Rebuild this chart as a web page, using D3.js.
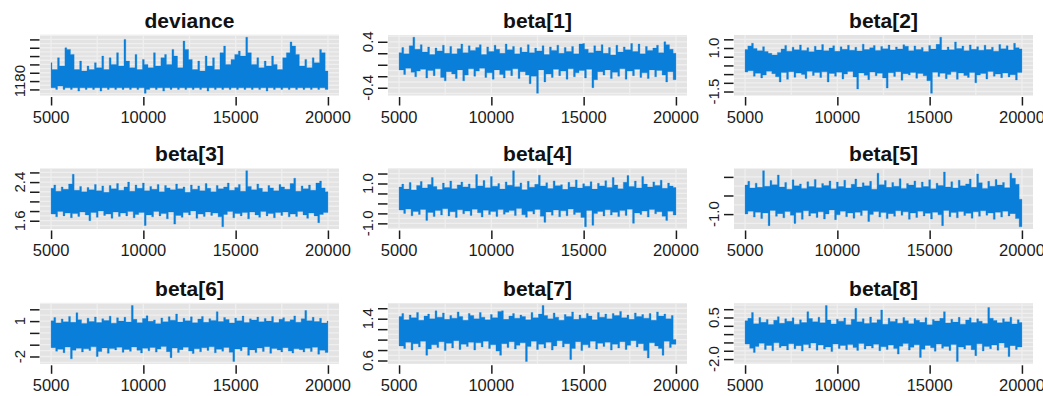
<!DOCTYPE html>
<html>
<head>
<meta charset="utf-8">
<script src="https://cdn.jsdelivr.net/npm/d3@7"></script>
<style>
  html, body { margin: 0; padding: 0; background: #ffffff; }
  svg { display: block; }
</style>
</head>
<body>
<svg id="chart" width="1043" height="396"></svg>
<script>
// MCMC trace plots: post burn-in draws (iterations 5000-20000), kept every 100th draw.
const firstIter = 5000;
const thinStep = 100;
const xTickValues = [5000, 10000, 15000, 20000];
const xGridStep = 2500;

const panelTitles = ["deviance", "beta[1]", "beta[2]", "beta[3]", "beta[4]", "beta[5]", "beta[6]", "beta[7]", "beta[8]"];

const devianceTrace = [
  1191,1176,1187,1175,1194,1177,1189,1175,1200,1176,
  1199,1175,1196,1176,1187,1174,1192,1176,1186,1175,
  1189,1176,1187,1175,1191,1176,1188,1174,1195,1176,
  1187,1175,1194,1176,1190,1175,1197,1176,1189,1175,
  1205,1176,1192,1175,1188,1176,1196,1175,1187,1176,
  1193,1172.7,1190,1175,1188,1176,1197,1175,1189,1176,
  1194,1174,1196,1176,1190,1175,1199,1176,1195,1175,
  1188,1176,1204,1175,1199,1176,1193,1175,1187,1176,
  1192,1175,1186,1176,1195,1174,1189,1176,1194,1175,
  1187,1176,1197,1175,1201,1176,1190,1175,1193,1176,
  1196,1175,1198,1176,1195,1175,1206.3,1176,1197,1175,
  1190,1176,1194,1175,1188,1176,1192,1174,1189,1176,
  1195,1175,1190,1176,1187,1175,1194,1176,1197,1175,
  1203.5,1176,1201,1175,1196,1176,1189,1175,1193,1176,
  1188,1175,1194,1176,1191,1175,1199,1176,1197,1175,
  1186
];

const beta1Trace = [
  0.21,-0.09,0.30,-0.17,0.19,-0.06,0.33,-0.13,0.479,-0.21,
  0.27,-0.11,0.35,-0.08,0.22,-0.23,0.31,-0.10,0.18,-0.19,
  0.29,-0.07,0.24,-0.22,0.34,-0.28,0.20,-0.12,0.32,-0.16,
  0.19,-0.24,0.28,-0.09,0.36,-0.28,0.21,-0.18,0.33,-0.07,
  0.25,-0.20,0.30,-0.11,0.35,-0.06,0.18,-0.22,0.31,-0.14,
  0.23,-0.25,0.34,-0.09,0.27,-0.17,0.20,-0.23,0.36,-0.10,
  0.26,-0.19,0.32,-0.07,0.19,-0.24,0.30,-0.12,0.22,-0.18,
  0.35,-0.33,0.21,-0.20,0.29,-0.496,0.24,-0.09,0.33,-0.30,
  0.18,-0.16,0.31,-0.22,0.25,-0.08,0.34,-0.19,0.20,-0.11,
  0.30,-0.25,0.23,-0.07,0.32,-0.21,0.19,-0.14,0.36,-0.10,
  0.37,-0.23,0.27,-0.08,0.21,-0.40,0.33,-0.26,0.24,-0.12,
  0.35,-0.18,0.20,-0.09,0.30,-0.24,0.17,-0.13,0.34,-0.20,
  0.22,-0.07,0.31,-0.25,0.26,-0.11,0.37,-0.19,0.23,-0.08,
  0.36,-0.22,0.19,-0.14,0.32,-0.24,0.25,-0.09,0.29,-0.21,
  0.34,-0.10,0.21,-0.18,0.40,-0.30,0.35,-0.12,0.27,-0.26,
  0.20
];

const beta2Trace = [
  0.92,-0.38,1.12,-0.30,1.27,-0.62,0.98,-0.45,0.85,-0.72,
  1.08,-0.55,0.80,-0.33,0.70,-0.48,0.60,-0.65,0.75,-0.95,
  0.95,-0.41,1.15,-0.80,0.82,-0.36,1.05,-0.68,0.90,-0.44,
  1.18,-0.52,0.86,-0.75,1.02,-0.34,0.79,-0.58,1.10,-0.40,
  0.88,-0.70,1.20,-0.37,0.84,-0.95,1.00,-0.46,1.13,-0.62,
  0.81,-0.39,1.07,-0.78,0.93,-0.50,1.16,-0.35,0.87,-0.66,
  1.04,-1.35,0.83,-0.43,1.22,-0.57,0.91,-0.82,1.01,-0.38,
  1.14,-0.60,0.86,-0.45,1.09,-0.72,0.96,-1.30,1.17,-0.42,
  0.89,-0.63,1.06,-0.36,0.95,-0.85,1.19,-0.48,1.10,-0.55,
  0.84,-0.40,1.12,-0.74,0.92,-0.47,1.03,-0.60,0.80,-0.88,
  1.15,-1.60,0.94,-0.39,1.21,-0.64,1.62,-0.45,0.88,-0.76,
  1.06,-0.52,0.90,-0.37,1.35,-0.80,0.97,-0.43,1.11,-0.58,
  0.85,-0.69,1.18,-0.41,0.93,-1.00,1.08,-0.55,0.87,-0.47,
  1.16,-0.78,0.91,-0.35,1.05,-0.62,0.82,-0.50,1.20,-0.71,
  0.96,-0.44,1.13,-0.66,0.89,-0.53,1.27,-0.84,1.02,-0.40,
  0.95
];

const beta3Trace = [
  2.27,1.74,2.34,1.68,2.21,1.79,2.30,1.70,2.25,1.76,
  2.36,1.66,2.56,1.75,2.23,1.69,2.31,1.78,2.20,1.72,
  2.29,1.60,2.24,1.77,2.35,1.67,2.22,1.80,2.32,1.71,
  2.19,1.74,2.33,1.65,2.26,1.78,2.37,1.69,2.23,1.76,
  2.30,1.70,2.40,1.79,2.21,1.66,2.34,1.73,2.27,1.77,
  2.38,1.50,2.22,1.72,2.31,1.68,2.25,1.79,2.35,1.70,
  2.20,1.75,2.33,1.64,2.28,1.78,2.24,1.53,2.36,1.71,
  2.26,1.67,2.30,1.77,2.19,1.72,2.34,1.80,2.25,1.65,
  2.32,1.74,2.22,1.69,2.37,1.78,2.27,1.71,2.20,1.76,
  2.33,1.68,2.26,1.475,2.30,1.73,2.38,1.79,2.23,1.66,
  2.29,1.75,2.35,1.70,2.21,1.77,2.635,1.64,2.31,1.78,
  2.24,1.72,2.36,1.67,2.27,1.79,2.20,1.70,2.33,1.75,
  2.28,1.66,2.22,1.77,2.35,1.71,2.30,1.78,2.25,1.68,
  2.37,1.74,2.48,1.69,2.21,1.79,2.32,1.72,2.26,1.65,
  2.34,1.76,2.23,1.70,2.38,1.56,2.42,1.73,2.28,1.77,
  2.20
];

const beta4Trace = [
  0.82,-0.33,0.97,-0.50,0.72,-0.28,1.05,-0.62,0.68,-0.40,
  0.90,-0.55,1.10,-0.30,0.78,-0.85,0.95,-0.45,1.30,-0.66,
  0.85,-0.35,0.70,-0.58,1.02,-0.27,0.80,-0.63,1.12,-0.42,
  0.74,-0.70,0.93,-0.32,1.07,-0.52,0.83,-0.38,0.98,-0.60,
  0.76,-0.29,1.45,-0.47,0.88,-0.68,1.15,-0.34,0.79,-0.56,
  1.35,-0.41,0.86,-0.65,1.00,-0.31,0.73,-0.54,1.08,-0.44,
  0.91,-0.36,1.64,-0.61,0.84,-0.26,1.03,-0.57,0.69,-0.69,
  1.11,-0.39,0.81,-0.53,0.96,-0.30,1.42,-0.64,0.87,-0.95,
  1.04,-0.43,0.75,-0.59,1.13,-0.33,0.89,-0.67,0.94,-0.37,
  0.71,-0.62,1.06,-0.28,0.83,-0.55,1.18,-0.46,0.77,-0.70,
  0.99,-1.17,0.86,-0.35,1.09,-1.10,0.72,-0.51,1.01,-0.40,
  0.88,-0.63,1.14,-0.32,0.80,-0.58,1.30,-0.44,0.92,-0.66,
  0.74,-0.36,1.06,-0.60,1.40,-0.29,0.85,-1.00,1.12,-0.48,
  0.78,-0.55,1.35,-0.38,0.97,-0.68,0.82,-0.31,1.08,-0.52,
  0.90,-0.42,1.16,-0.64,0.76,-0.85,1.02,-0.39,0.87,-0.58,
  0.80
];

const beta5Trace = [
  -0.22,-1.00,-0.12,-0.92,-0.30,-1.08,-0.17,-0.95,-0.28,-1.12,
  0.165,-0.97,-0.25,-1.31,-0.10,-0.90,-0.21,-1.06,0.05,-0.99,
  -0.27,-1.10,-0.15,-0.93,-0.33,-1.03,-0.08,-1.25,-0.24,-0.96,
  -0.19,-1.14,-0.31,-0.91,-0.13,-1.05,-0.26,-0.98,-0.07,-1.09,
  -0.29,-0.94,-0.18,-1.13,-0.23,-1.00,-0.11,-0.89,-0.32,-1.15,
  -0.14,-1.02,-0.26,-0.92,-0.09,-1.07,-0.30,-0.97,-0.20,-1.11,
  -0.06,-0.95,-0.27,-1.04,-0.16,-0.90,-0.24,-1.20,-0.12,-1.01,
  -0.33,-0.93,0.10,-1.08,-0.21,-0.96,-0.10,-1.12,-0.28,-0.99,
  -0.15,-1.06,-0.25,-0.91,-0.05,-1.03,-0.31,-0.94,-0.18,-1.14,
  -0.22,-0.97,-0.11,-1.09,-0.29,-0.92,-0.14,-1.05,-0.26,-0.98,
  -0.08,-1.13,-0.32,-0.95,-0.17,-1.02,-0.23,-1.31,0.13,-0.90,
  -0.27,-1.07,-0.13,-0.96,-0.30,-1.10,-0.09,-0.93,-0.24,-1.04,
  -0.19,-0.98,-0.06,-1.11,-0.28,-0.94,0.08,-1.06,-0.16,-0.91,
  -0.31,-1.03,-0.12,-0.97,-0.25,-1.14,-0.07,-0.95,-0.22,-1.08,
  -0.15,-0.92,-0.29,-1.05,0.10,-0.99,-0.04,-1.12,-0.20,-1.34,
  -0.60
];

const beta6Trace = [
  1.02,-1.25,1.30,-1.55,0.85,-1.38,1.18,-1.68,0.95,-1.20,
  1.40,-2.20,0.90,-1.47,1.71,-1.30,1.12,-1.62,0.80,-1.35,
  1.25,-1.50,0.97,-1.18,1.35,-2.00,0.88,-1.58,1.20,-1.27,
  1.05,-1.72,1.42,-1.33,0.82,-1.45,1.28,-1.22,1.00,-1.65,
  1.33,-1.40,0.93,-1.56,2.32,-1.19,1.15,-1.48,0.87,-1.70,
  1.22,-1.31,1.45,-1.52,0.98,-1.24,1.10,-1.63,0.78,-1.37,
  1.27,-1.16,0.95,-1.59,1.38,-2.10,1.08,-1.29,1.60,-1.66,
  0.92,-1.42,1.24,-1.21,1.03,-1.53,1.36,-1.74,0.86,-1.34,
  1.17,-1.60,1.40,-1.26,0.90,-1.49,1.21,-1.18,1.06,-1.69,
  1.80,-1.39,0.96,-1.55,1.31,-1.23,1.13,-1.64,0.84,-2.43,
  1.26,-1.36,1.02,-1.51,1.43,-1.20,0.89,-1.90,1.19,-1.44,
  1.09,-1.67,1.34,-1.28,0.94,-1.57,1.23,-1.17,1.00,-1.73,
  1.39,-1.32,0.88,-1.46,1.16,-1.61,1.29,-1.25,0.97,-1.54,
  1.11,-1.71,1.44,-1.35,0.91,-1.43,1.20,-1.62,1.90,-1.30,
  1.04,-1.58,1.32,-1.22,0.96,-1.80,1.25,-1.48,0.83,-1.66,
  1.00
];

const beta7Trace = [
  1.44,0.88,1.50,0.83,1.38,0.95,1.47,0.80,1.42,0.92,
  1.52,0.86,1.37,0.97,1.45,0.70,1.49,0.82,1.40,0.90,
  1.55,0.85,1.43,0.96,1.51,0.79,1.39,0.93,1.46,0.84,
  1.41,0.98,1.53,0.81,1.44,0.91,1.37,0.87,1.50,0.95,
  1.46,0.80,1.40,0.94,1.52,0.86,1.43,0.97,1.38,0.83,
  1.48,0.90,1.42,0.78,1.54,0.70,1.55,0.92,1.39,0.85,
  1.45,0.96,1.50,0.82,1.41,0.89,1.47,0.94,1.44,0.58,
  1.38,0.87,1.52,0.97,1.42,0.81,1.49,0.91,1.652,0.84,
  1.46,0.95,1.40,0.80,1.51,0.88,1.43,0.98,1.37,0.86,
  1.48,0.92,1.44,0.62,1.53,0.83,1.39,0.96,1.47,0.79,
  1.41,0.90,1.50,0.85,1.45,0.97,1.38,0.82,1.52,0.93,
  1.43,0.87,1.49,0.95,1.40,0.80,1.50,0.91,1.46,0.84,
  1.54,0.96,1.42,0.81,1.47,0.89,1.39,0.98,1.51,0.86,
  1.44,0.92,1.48,0.79,1.41,0.65,1.50,0.94,1.37,0.88,
  1.53,0.83,1.45,0.70,1.49,0.97,1.40,0.85,1.46,0.91,
  1.00
];

const beta8Trace = [
  0.30,-1.10,0.45,-1.35,0.80,-1.60,0.12,-1.25,0.50,-1.05,
  0.22,-1.42,0.38,-1.18,0.08,-1.50,0.33,-1.02,0.55,-1.30,
  0.15,-1.22,0.42,-1.45,0.27,-1.08,0.48,-1.38,0.10,-1.20,
  0.36,-1.52,0.20,-1.12,0.85,-1.33,0.44,-1.04,0.25,-1.47,
  0.52,-1.15,0.18,-1.40,1.22,-1.27,0.35,-1.55,0.11,-1.09,
  0.40,-1.36,0.28,-1.19,0.47,-1.44,0.07,-1.13,0.39,-1.31,
  1.05,-1.48,0.24,-1.06,0.43,-1.39,0.14,-1.21,0.53,-1.34,
  0.19,-1.11,0.37,-1.50,0.95,-1.26,0.09,-1.43,0.46,-1.16,
  0.26,-1.37,0.41,-1.70,0.16,-1.23,0.50,-1.07,0.31,-1.46,
  0.13,-1.29,0.44,-1.14,0.34,-1.90,0.21,-1.41,0.49,-1.18,
  0.06,-1.32,0.38,-1.53,0.29,-1.10,0.45,-1.35,0.85,-1.24,
  0.17,-1.49,0.40,-1.12,0.23,-2.15,0.51,-1.28,0.10,-1.40,
  0.35,-1.17,0.48,-1.44,0.20,-1.80,0.42,-1.08,0.27,-1.51,
  0.14,-1.25,1.10,-1.38,0.46,-1.15,0.32,-1.47,0.18,-1.03,
  0.43,-1.30,0.25,-1.85,0.52,-1.20,0.11,-1.42,0.37,-1.27,
  0.20
];

const traces = [devianceTrace, beta1Trace, beta2Trace, beta3Trace, beta4Trace,
                beta5Trace, beta6Trace, beta7Trace, beta8Trace];

// y tick positions per panel, and the labels that are printed (blank where skipped)
const yTickValues = [
  [1175, 1180, 1185, 1190, 1195, 1200, 1205],
  [-0.4, -0.2, 0, 0.2, 0.4],
  [-1.5, -1, -0.5, 0, 0.5, 1, 1.5],
  [1.6, 1.8, 2.0, 2.2, 2.4, 2.6],
  [-1, -0.5, 0, 0.5, 1, 1.5],
  [-1, -0.5, 0],
  [-2, -1, 0, 1, 2],
  [0.6, 0.8, 1.0, 1.2, 1.4, 1.6],
  [-2, -1.5, -1, -0.5, 0, 0.5, 1]
];
const yTickLabels = [
  ["", "1180", "", "", "", "", ""],
  ["-0.4", "", "", "", "0.4"],
  ["-1.5", "", "", "", "", "1.0", ""],
  ["1.6", "", "", "", "2.4", ""],
  ["-1.0", "", "", "", "1.0", ""],
  ["-1.0", "", ""],
  ["-2", "", "", "1", ""],
  ["0.6", "", "", "", "1.4", ""],
  ["-2.0", "", "", "", "", "0.5", ""]
];

// layout
const colLeft = [40, 388, 734];
const rowTop = [35, 168.5, 303.3];
const plotW = 299, plotH = 60.5;

const traceColor = "#0a7fd9";
const panelFill = "#e3e3e3";
const gridColor = "#efefef";
const inkColor = "#1c1c1c";
const fontFamily = "'Liberation Sans', Arial, Helvetica, sans-serif";

const svg = d3.select("#chart");

// R-style axis range: data extent widened by 4% on each side
function padRange(ext) {
  const p = (ext[1] - ext[0]) * 0.04;
  return [ext[0] - p, ext[1] + p];
}

panelTitles.forEach((title, k) => {
  const r = Math.floor(k / 3), c = k % 3;
  const vals = traces[k];
  const iters = vals.map((_, i) => firstIter + i * thinStep);

  const x = d3.scaleLinear().domain(padRange(d3.extent(iters))).range([0, plotW]);
  const y = d3.scaleLinear().domain(padRange(d3.extent(vals))).range([plotH, 0]);

  const g = svg.append("g").attr("transform", `translate(${colLeft[c]},${rowTop[r]})`);

  // panel background
  g.append("rect")
    .attr("width", plotW).attr("height", plotH)
    .attr("fill", panelFill);

  // grid: vertical every 2500 iterations, horizontal at ticks and half-steps
  const [x0, x1] = x.domain();
  const vGrid = d3.range(Math.ceil(x0 / xGridStep) * xGridStep, x1, xGridStep);
  g.append("g").selectAll("line").data(vGrid).join("line")
    .attr("x1", d => x(d)).attr("x2", d => x(d))
    .attr("y1", 0).attr("y2", plotH)
    .attr("stroke", gridColor).attr("stroke-width", 1.3);

  const ticks = yTickValues[k];
  const half = (ticks[1] - ticks[0]) / 2;
  const [y0, y1] = y.domain();
  const hGrid = d3.range(Math.ceil(y0 / half - 1e-9), Math.floor(y1 / half + 1e-9) + 1)
    .map(n => n * half);
  g.append("g").selectAll("line").data(hGrid).join("line")
    .attr("x1", 0).attr("x2", plotW)
    .attr("y1", d => y(d)).attr("y2", d => y(d))
    .attr("stroke", gridColor).attr("stroke-width", 1.3);

  // trace: one column per kept draw, running from the draw to the nearer of its neighbours
  const cols = vals.map((v, i) => {
    const nb = [vals[i - 1], vals[i + 1]].filter(d => d !== undefined);
    const near = nb.reduce((a, b) => (Math.abs(b - v) < Math.abs(a - v) ? b : a));
    return { it: iters[i], lo: Math.min(v, near), hi: Math.max(v, near) };
  });

  g.append("path")
    .datum(cols)
    .attr("fill", traceColor)
    .attr("stroke", traceColor)
    .attr("stroke-width", 0.3)
    .attr("d", d3.area()
      .curve(d3.curveStep)
      .x(d => x(d.it))
      .y0(d => y(d.lo))
      .y1(d => y(d.hi)));

  // x axis
  const xAxis = g.append("g")
    .attr("transform", `translate(0,${plotH + 1.5})`)
    .call(d3.axisBottom(x).tickValues(xTickValues).tickSize(8.5).tickFormat(""));
  xAxis.select(".domain").remove();
  xAxis.selectAll(".tick line").attr("stroke", inkColor).attr("stroke-width", 1.5);

  g.append("g").selectAll("text").data(xTickValues).join("text")
    .attr("x", d => x(d))
    .attr("y", plotH + 27)
    .attr("text-anchor", "middle")
    .attr("font-family", fontFamily)
    .attr("font-size", 16.5)
    .attr("fill", inkColor)
    .text(d => d);

  // y axis
  const yAxis = g.append("g")
    .attr("transform", "translate(-0.5,0)")
    .call(d3.axisLeft(y).tickValues(ticks).tickSize(9.5).tickFormat(""));
  yAxis.select(".domain").remove();
  yAxis.selectAll(".tick line").attr("stroke", inkColor).attr("stroke-width", 1.5);

  g.append("g").selectAll("text").data(ticks).join("text")
    .attr("transform", d => `translate(-15,${y(d)}) rotate(-90)`)
    .attr("text-anchor", "middle")
    .attr("font-family", fontFamily)
    .attr("font-size", 15)
    .attr("fill", inkColor)
    .text((d, i) => yTickLabels[k][i]);

  // title
  g.append("text")
    .attr("x", plotW / 2)
    .attr("y", -7.5)
    .attr("text-anchor", "middle")
    .attr("font-family", fontFamily)
    .attr("font-weight", "bold")
    .attr("font-size", 21)
    .attr("fill", "#111111")
    .text(title);
});
</script>
</body>
</html>
